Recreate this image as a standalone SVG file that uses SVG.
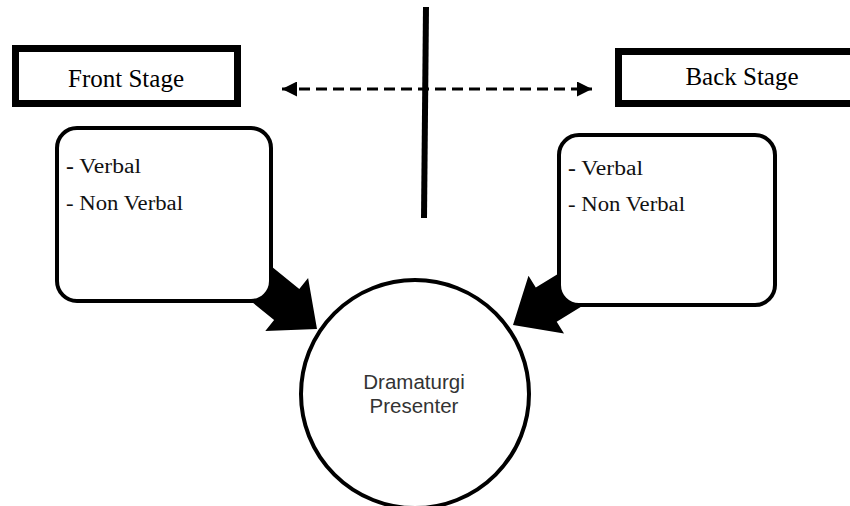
<svg xmlns="http://www.w3.org/2000/svg" width="850" height="506" viewBox="0 0 850 506">
<style>
.stage{fill:#fff;stroke:#000;stroke-width:7}
.box{fill:#fff;stroke:#000;stroke-width:4}
.serif{font-family:"Liberation Serif","Times New Roman",serif;fill:#000}
.item{font-size:20px;fill:#111}
.sans{font-family:"Liberation Sans",Arial,sans-serif;fill:#333;font-size:20.5px;text-anchor:middle}
.blk{fill:#000}
</style>
<defs>
<marker id="ah" viewBox="0 0 10 10" refX="10" refY="5" markerWidth="16" markerHeight="15" markerUnits="userSpaceOnUse" orient="auto-start-reverse">
<path d="M0,0 L10,5 L0,10 Z" fill="#000"/>
</marker>
</defs>
<g id="connectors">
<line x1="426" y1="7" x2="424" y2="218" stroke="#000" stroke-width="6"/>
<line x1="282" y1="89" x2="592" y2="89" stroke="#000" stroke-width="3" stroke-dasharray="11,6" marker-start="url(#ah)" marker-end="url(#ah)"/>
<polygon class="blk" transform="translate(317,329) rotate(39)" points="0,0 -39,-34 -39,-20 -110,-20 -110,20 -39,20 -39,34"/>
<polygon class="blk" transform="translate(513,325) rotate(148.5)" points="0,0 -39,-34 -39,-20 -110,-20 -110,20 -39,20 -39,34"/>
</g>
<g id="front-stage">
<rect class="stage" x="15.5" y="48.5" width="222" height="55"/>
<text class="serif" x="126" y="87" font-size="25" text-anchor="middle">Front Stage</text>
</g>
<g id="back-stage">
<rect class="stage" x="618.5" y="51.5" width="250" height="52"/>
<text class="serif" x="742" y="85" font-size="25" text-anchor="middle">Back Stage</text>
</g>
<g id="front-box">
<rect class="box" x="57" y="128" width="214" height="173" rx="20"/>
<text class="serif item" x="66" y="173" textLength="75" lengthAdjust="spacingAndGlyphs"><tspan font-weight="bold">-</tspan> Verbal</text>
<text class="serif item" x="66" y="210" textLength="117" lengthAdjust="spacingAndGlyphs">- Non Verbal</text>
</g>
<g id="back-box">
<rect class="box" x="559" y="135" width="216" height="170" rx="20"/>
<text class="serif item" x="568" y="175" textLength="75" lengthAdjust="spacingAndGlyphs"><tspan font-weight="bold">-</tspan> Verbal</text>
<text class="serif item" x="568" y="211" textLength="117" lengthAdjust="spacingAndGlyphs">- Non Verbal</text>
</g>
<g id="dramaturgi">
<circle cx="415" cy="394" r="114" fill="#fff" stroke="#000" stroke-width="4"/>
<text class="sans" x="414" y="389">Dramaturgi</text>
<text class="sans" x="414" y="413">Presenter</text>
</g>
</svg>
